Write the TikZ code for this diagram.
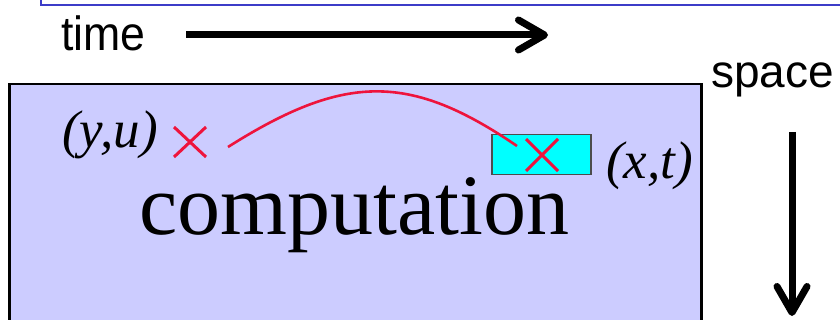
\documentclass[tikz,border=0pt]{standalone}
\usepackage{fontspec}
\setmainfont{Liberation Serif}
\setsansfont{Liberation Sans}
\usetikzlibrary{arrows.meta,calc}
\definecolor{boxfill}{RGB}{204,204,255}
\definecolor{topblue}{RGB}{60,60,200}
\definecolor{crossred}{RGB}{238,20,60}
\definecolor{cellcyan}{RGB}{0,255,255}
\tikzset{
  sanslabel/.style={font=\sffamily\fontsize{48}{52}\selectfont, inner sep=0pt},
  mathlabel/.style={font=\itshape\fontsize{53}{56}\selectfont, inner sep=0pt},
  bigarrow/.style={line width=7pt, -{Straight Barb[length=26pt,width=30pt,round]}},
  crossmark/.style={draw=crossred, line width=3pt},
  pathcurve/.style={draw=crossred, line width=2.6pt}
}
\begin{document}
\begin{tikzpicture}[x=1pt,y=-1pt]
\useasboundingbox (0,0) rectangle (840,320);
% top blue frame (partially visible)
\draw[topblue, line width=2pt] (41,-20) rectangle (860,5);
% time axis
\node[sanslabel, anchor=base west, xscale=0.93] (time) at (61,51) {time};
\coordinate (tstart) at (186,35);
\coordinate (tend) at (548,35);
\draw[bigarrow] (tstart) -- (tend);
% computation box
\node[draw=black, line width=2.5pt, fill=boxfill, minimum width=692pt, minimum height=260pt, anchor=north west, inner sep=0pt] (comp) at (8,83) {};
\node[font=\fontsize{86}{90}\selectfont, inner sep=0pt, anchor=base] (ctext) at (354,235) {computation};
% space axis
\node[sanslabel, anchor=base west, font=\sffamily\fontsize{46}{50}\selectfont] (space) at (711,88) {space};
\coordinate (sstart) at (792,132);
\coordinate (send) at (792,316);
\draw[bigarrow] (sstart) -- (send);
% (y,u)
\node[mathlabel, anchor=base east] (yu) at (158,148) {(y,u)};
\coordinate (c1) at (190,142);
\draw[crossmark] ($(c1)+(-16,-15)$) -- ($(c1)+(16,15)$) ($(c1)+(-16,15)$) -- ($(c1)+(16,-15)$);
% cyan cell
\node[draw=black!70, line width=1.5pt, fill=cellcyan, minimum width=99pt, minimum height=40pt, inner sep=0pt, anchor=north west] (cell) at (491,134) {};
\coordinate (c2) at (542,155);
\draw[crossmark] ($(c2)+(-16,-16)$) -- ($(c2)+(16,16)$) ($(c2)+(-16,16)$) -- ($(c2)+(16,-16)$);
\node[mathlabel, anchor=base west] (xt) at (606,179) {(x,t)};
% dependency curve
\coordinate (pa) at (228,147);
\coordinate (pb) at (517,146);
\draw[pathcurve] (pa) .. controls (345,73) and (410,73) .. (pb);
\end{tikzpicture}
\end{document}
